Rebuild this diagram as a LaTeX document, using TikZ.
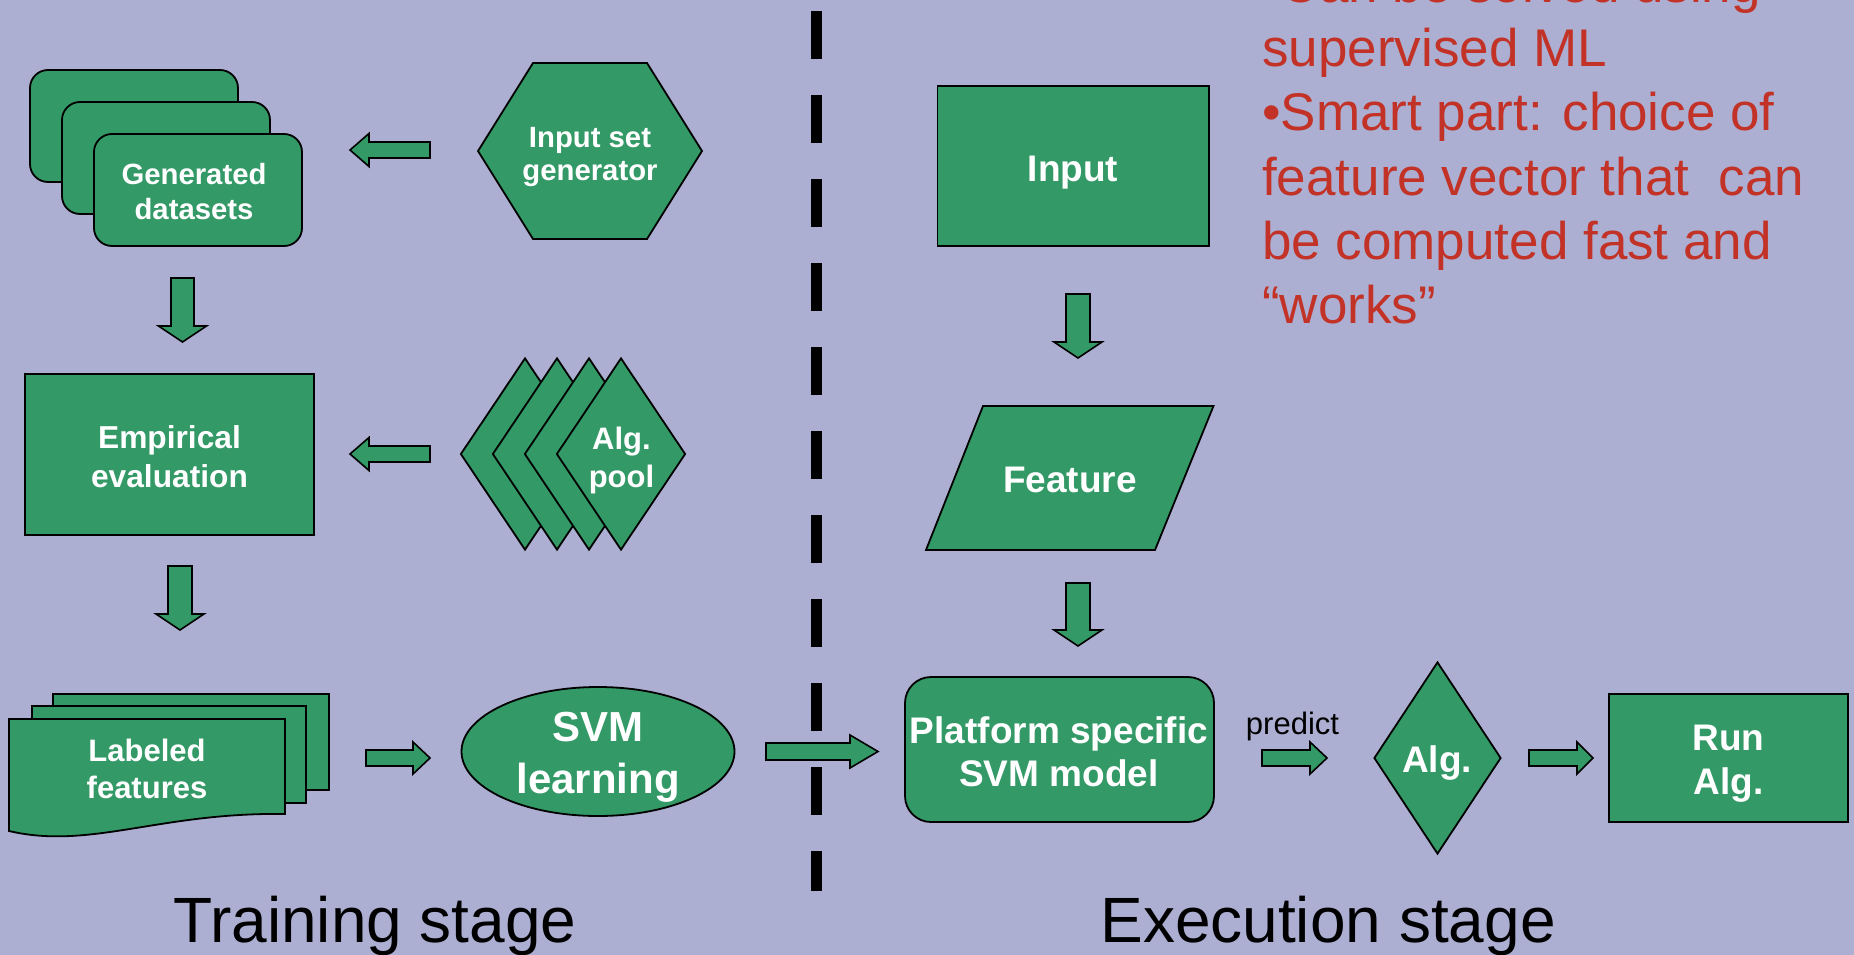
\documentclass[tikz,border=0pt]{standalone}
\usepackage{fontspec}
\setmainfont{Liberation Sans}
\usetikzlibrary{calc,shapes.geometric}

\definecolor{slidebg}{RGB}{172,175,210}
\definecolor{boxgreen}{RGB}{51,153,102}
\definecolor{notered}{RGB}{194,50,38}

\tikzset{
  shapefill/.style={fill=boxgreen, draw=black, line width=1.8pt, line join=miter},
  roundbox/.style={shapefill, rectangle, inner sep=0pt},
  squarebox/.style={shapefill, rectangle, inner sep=0pt},
  lbl/.style={text=white, align=center, inner sep=0pt},
  blockarrow/.style={fill=boxgreen, draw=black, line width=1.6pt, line join=miter},
  redline/.style={text=notered, anchor=base west, inner sep=0pt, font=\fontsize{53}{64}\selectfont},
  stagetitle/.style={text=black, anchor=base, inner sep=0pt, font=\fontsize{64}{76}\selectfont},
}

% block arrow: tail, tip, shaft half-width, head half-width, head length
\newcommand\fatarrow[5]{%
  \coordinate (fathead) at ($(#2)!#5!(#1)$);
  \draw[blockarrow] ($(#1)!#3!90:(#2)$) -- ($(fathead)!#3!-90:(#1)$)
    -- ($(fathead)!#4!-90:(#1)$) -- (#2) -- ($(fathead)!#4!90:(#1)$)
    -- ($(fathead)!#3!90:(#1)$) -- ($(#1)!#3!-90:(#2)$) -- cycle;}

\begin{document}
\begin{tikzpicture}[x=1pt, y=-1pt]
\useasboundingbox (0,0) rectangle (1854,955);
\fill[slidebg] (0,0) rectangle (1854,955);

% stage separator
\coordinate (sepTop) at (816.5,11);
\coordinate (sepBot) at (816.5,891);
\draw[black, line width=11.5pt, dash pattern=on 48pt off 36pt] (sepTop) -- (sepBot);

% ---------------- training stage ----------------
% generated datasets (stack of rounded cards)
\node[roundbox, rounded corners=18pt, minimum width=208pt, minimum height=112pt] (gen3) at (134,126) {};
\node[roundbox, rounded corners=18pt, minimum width=208pt, minimum height=112pt] (gen2) at (166,158) {};
\node[roundbox, rounded corners=18pt, minimum width=208pt, minimum height=112pt] (gen) at (198,190) {};
\node[lbl, font=\fontsize{29.3}{35}\selectfont\bfseries] (gentxt) at (194,191.5) {Generated\\datasets};

% input set generator (hexagon)
\draw[shapefill] (478,151) -- (533,63) -- (647,63) -- (702,151) -- (647,239) -- (533,239) -- cycle;
\node[lbl, font=\fontsize{29.3}{33}\selectfont\bfseries] (isg) at (590,157) {Input set\\generator};

% empirical evaluation
\node[squarebox, minimum width=289pt, minimum height=161pt] (emp) at (169.5,454.5) {};
\node[lbl, font=\fontsize{31.7}{39.3}\selectfont\bfseries] (emptxt) at (169.5,456.5) {Empirical\\evaluation};

% algorithm pool (stacked diamonds)
\foreach \cx/\nm in {525/pool4, 557/pool3, 589/pool2, 621/pool} {
  \node[shapefill, diamond, inner sep=0pt, minimum width=129pt, minimum height=192pt] (\nm) at (\cx,454) {};
}
\node[lbl, font=\fontsize{31}{38}\selectfont\bfseries] (pooltxt) at (621.5,460) {Alg.\\pool};

% labeled features (stacked documents)
\node[squarebox, minimum width=276pt, minimum height=96pt] (lab3) at (191,742) {};
\node[squarebox, minimum width=274pt, minimum height=97pt] (lab2) at (169,754.5) {};
\draw[shapefill] (9,719) -- (285,719) -- (285,814) .. controls (160,812) and (90,850) .. (9,831) -- cycle;
\node[lbl, font=\fontsize{31}{37}\selectfont\bfseries] (lab) at (147,768.5) {Labeled\\features};

% SVM learning
\node[shapefill, ellipse, inner sep=0pt, minimum width=273pt, minimum height=129pt] (svm) at (598,751.5) {};
\node[lbl, font=\fontsize{42}{51.7}\selectfont\bfseries] (svmtxt) at (598,757.5) {SVM\\learning};

% ---------------- execution stage ----------------
\node[squarebox, minimum width=271.5pt, minimum height=160pt] (inp) at (1073.25,166) {};
\node[lbl, font=\fontsize{37}{44}\selectfont\bfseries] (inptxt) at (1073,172.5) {Input};

\draw[shapefill] (983,406) -- (1213.5,406) -- (1155,550) -- (926,550) -- cycle;
\node[lbl, font=\fontsize{37}{44}\selectfont\bfseries] (feat) at (1070,479.5) {Feature};

\node[roundbox, rounded corners=26pt, minimum width=309pt, minimum height=145pt] (model) at (1059.5,749.5) {};
\node[lbl, font=\fontsize{37}{43.3}\selectfont\bfseries] (modeltxt) at (1059,752) {Platform specific\\SVM model};

\node[shapefill, diamond, inner sep=0pt, minimum width=127pt, minimum height=192pt] (alg) at (1437.5,758) {};
\node[lbl, font=\fontsize{37}{44}\selectfont\bfseries] (algtxt) at (1437,763) {Alg.};

\node[squarebox, minimum width=239pt, minimum height=128pt] (run) at (1728.5,758) {};
\node[lbl, font=\fontsize{37}{44}\selectfont\bfseries] (runtxt) at (1728.5,764) {Run\\Alg.};

\node[text=black, anchor=base, inner sep=0pt, font=\fontsize{31}{37}\selectfont] (pred) at (1292.5,734) {predict};

% ---------------- block arrows ----------------
\coordinate (a1t) at (430,150);   \coordinate (a1h) at (350,150);
\coordinate (a2t) at (430,454);   \coordinate (a2h) at (350,454);
\coordinate (a3t) at (182.5,278); \coordinate (a3h) at (182.5,342);
\coordinate (a4t) at (180,566);   \coordinate (a4h) at (180,630);
\coordinate (a5t) at (366,758);   \coordinate (a5h) at (430,758);
\coordinate (a6t) at (766,751.5); \coordinate (a6h) at (878,751.5);
\coordinate (a7t) at (1078,294);  \coordinate (a7h) at (1078,358);
\coordinate (a8t) at (1078,583);  \coordinate (a8h) at (1078,646);
\coordinate (a9t) at (1262,758);  \coordinate (a9h) at (1327,758);
\coordinate (a10t) at (1529,758); \coordinate (a10h) at (1593,758);

\fatarrow{a1t}{a1h}{8pt}{16.5pt}{19pt}
\fatarrow{a2t}{a2h}{8pt}{16.5pt}{19pt}
\fatarrow{a3t}{a3h}{11.5pt}{24pt}{16pt}
\fatarrow{a4t}{a4h}{12pt}{24pt}{16pt}
\fatarrow{a5t}{a5h}{8pt}{16pt}{17pt}
\fatarrow{a6t}{a6h}{8.5pt}{16.5pt}{28pt}
\fatarrow{a7t}{a7h}{12pt}{24pt}{16pt}
\fatarrow{a8t}{a8h}{12pt}{24pt}{16pt}
\fatarrow{a9t}{a9h}{8pt}{16pt}{17pt}
\fatarrow{a10t}{a10h}{8pt}{16pt}{16pt}

% ---------------- notes and stage titles ----------------
\node[redline] (r1) at (1262,3)   {•Can be solved using};
\node[redline] (r2) at (1262,67)  {supervised ML};
\node[redline] (r3) at (1262,131) {•Smart part: choice of};
\node[redline] (r4) at (1262,195) {feature vector that\ \ can};
\node[redline] (r5) at (1262,259) {be computed fast and};
\node[redline] (r6) at (1262,323) {“works”};

\node[stagetitle] (train) at (375,942) {Training stage};
\node[stagetitle] (exec) at (1328,942) {Execution stage};
\end{tikzpicture}
\end{document}
